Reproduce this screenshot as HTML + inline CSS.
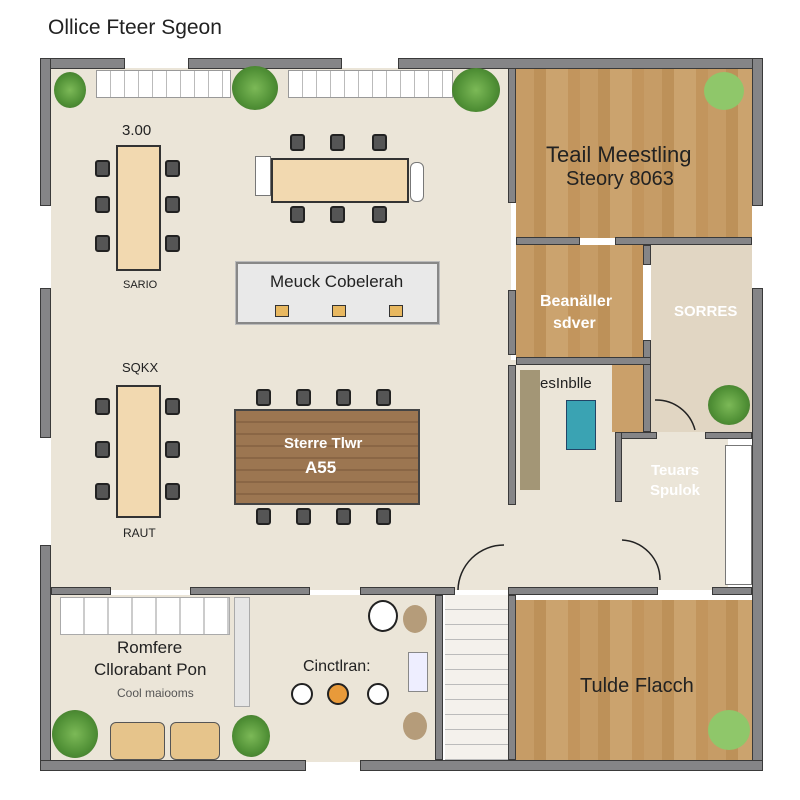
<!DOCTYPE html>
<html><head><meta charset="utf-8"><style>
body{margin:0;width:800px;height:800px;background:#fff;position:relative;overflow:hidden;font-family:"Liberation Sans",sans-serif}
div{position:absolute;box-sizing:border-box}
.w{background:#858587;border:1px solid #3a3a3a}
.fl{background:#ebe5d8}
.wood{background:repeating-linear-gradient(90deg,#c69c66 0 18px,#bd9159 18px 30px,#cba36e 30px 52px,#c2955d 52px 64px)}
.ch{background:#555;border:2px solid #222;border-radius:3px;width:15px;height:17px}
.tb{background:#f2d9b0;border:2px solid #333}
.t{white-space:nowrap;color:#222}
.pl{border-radius:50%;background:radial-gradient(circle,#7cb957 0,#4f8f35 60%,#3d6d2a 100%)}
.win{background:#fff;border:1px solid #999}
</style></head><body>
<div class="t" style="left:48px;top:16px;font-size:21px">Ollice Fteer Sgeon</div>
<div class="fl" style="left:51px;top:68px;width:460px;height:522px"></div>
<div class="fl" style="left:508px;top:360px;width:220px;height:230px"></div>
<div class="fl" style="left:51px;top:595px;width:386px;height:167px"></div>
<div class="wood" style="left:516px;top:68px;width:236px;height:170px"></div>
<div class="wood" style="left:516px;top:245px;width:127px;height:112px"></div>
<div style="left:651px;top:245px;width:101px;height:187px;background:#e1d6c3"></div>
<div style="left:612px;top:365px;width:36px;height:67px;background:#caa06a"></div>
<div class="wood" style="left:516px;top:600px;width:236px;height:160px"></div>
<div style="left:725px;top:445px;width:27px;height:140px;background:#fff;border:1px solid #777"></div>
<div style="left:445px;top:595px;width:63px;height:165px;background:repeating-linear-gradient(180deg,#f4f1ec 0 14px,#bbb 14px 15px)"></div>
<div style="left:520px;top:370px;width:20px;height:120px;background:#a39676"></div>
<div style="left:566px;top:400px;width:30px;height:50px;background:#3aa3b3;border:1px solid #246"></div>
<div class="w" style="left:40px;top:58px;width:85px;height:11px"></div>
<div class="w" style="left:188px;top:58px;width:154px;height:11px"></div>
<div class="w" style="left:398px;top:58px;width:365px;height:11px"></div>
<div class="w" style="left:40px;top:58px;width:11px;height:148px"></div>
<div class="w" style="left:40px;top:288px;width:11px;height:150px"></div>
<div class="w" style="left:40px;top:545px;width:11px;height:226px"></div>
<div class="w" style="left:752px;top:58px;width:11px;height:148px"></div>
<div class="w" style="left:752px;top:288px;width:11px;height:483px"></div>
<div class="w" style="left:40px;top:760px;width:266px;height:11px"></div>
<div class="w" style="left:360px;top:760px;width:403px;height:11px"></div>
<div class="w" style="left:508px;top:68px;width:8px;height:135px"></div>
<div class="w" style="left:508px;top:290px;width:8px;height:65px"></div>
<div class="w" style="left:508px;top:365px;width:8px;height:140px"></div>
<div class="w" style="left:516px;top:237px;width:64px;height:8px"></div>
<div class="w" style="left:615px;top:237px;width:137px;height:8px"></div>
<div class="w" style="left:643px;top:245px;width:8px;height:20px"></div>
<div class="w" style="left:643px;top:340px;width:8px;height:92px"></div>
<div class="w" style="left:516px;top:357px;width:135px;height:8px"></div>
<div class="w" style="left:615px;top:432px;width:42px;height:7px"></div>
<div class="w" style="left:705px;top:432px;width:47px;height:7px"></div>
<div class="w" style="left:615px;top:432px;width:7px;height:70px"></div>
<div class="w" style="left:51px;top:587px;width:60px;height:8px"></div>
<div class="w" style="left:190px;top:587px;width:120px;height:8px"></div>
<div class="w" style="left:360px;top:587px;width:95px;height:8px"></div>
<div class="w" style="left:508px;top:587px;width:150px;height:8px"></div>
<div class="w" style="left:712px;top:587px;width:40px;height:8px"></div>
<div class="w" style="left:435px;top:595px;width:8px;height:165px"></div>
<div class="w" style="left:508px;top:595px;width:8px;height:165px"></div>
<div class="win" style="left:96px;top:70px;width:135px;height:28px;background:repeating-linear-gradient(90deg,#fff 0 13px,#bbb 13px 14px)"></div>
<div class="win" style="left:288px;top:70px;width:165px;height:28px;background:repeating-linear-gradient(90deg,#fff 0 13px,#bbb 13px 14px)"></div>
<div class="pl" style="left:54px;top:72px;width:32px;height:36px"></div>
<div class="pl" style="left:232px;top:66px;width:46px;height:44px"></div>
<div class="pl" style="left:452px;top:68px;width:48px;height:44px"></div>
<div class="pl" style="left:704px;top:72px;width:40px;height:38px;background:#8fc76a"></div>
<div class="pl" style="left:708px;top:385px;width:42px;height:40px"></div>
<div class="pl" style="left:52px;top:710px;width:46px;height:48px"></div>
<div class="pl" style="left:232px;top:715px;width:38px;height:42px"></div>
<div class="pl" style="left:708px;top:710px;width:42px;height:40px;background:#8fc76a"></div>
<div class="t" style="left:122px;top:122px;font-size:15px">3.00</div>
<div class="tb" style="left:116px;top:145px;width:45px;height:126px"></div>
<div class="ch" style="left:95px;top:160px"></div><div class="ch" style="left:95px;top:196px"></div><div class="ch" style="left:95px;top:235px"></div>
<div class="ch" style="left:165px;top:160px"></div><div class="ch" style="left:165px;top:196px"></div><div class="ch" style="left:165px;top:235px"></div>
<div class="t" style="left:123px;top:279px;font-size:11px">SARIO</div>
<div class="tb" style="left:271px;top:158px;width:138px;height:45px"></div>
<div style="left:255px;top:156px;width:16px;height:40px;border:1px solid #777;background:#fff"></div>
<div style="left:410px;top:162px;width:14px;height:40px;border:1px solid #777;background:#fff;border-radius:6px"></div>
<div class="ch" style="left:290px;top:134px"></div><div class="ch" style="left:330px;top:134px"></div><div class="ch" style="left:372px;top:134px"></div>
<div class="ch" style="left:290px;top:206px"></div><div class="ch" style="left:330px;top:206px"></div><div class="ch" style="left:372px;top:206px"></div>
<div style="left:236px;top:262px;width:203px;height:62px;background:#e9e9e9;border:2px solid #888;outline:1px solid #bbb"></div>
<div class="t" style="left:270px;top:272px;font-size:17px">Meuck Cobelerah</div>
<div style="left:275px;top:305px;width:14px;height:12px;background:#e8b860;border:1px solid #333"></div>
<div style="left:332px;top:305px;width:14px;height:12px;background:#e8b860;border:1px solid #333"></div>
<div style="left:389px;top:305px;width:14px;height:12px;background:#e8b860;border:1px solid #333"></div>
<div class="t" style="left:122px;top:360px;font-size:13px">SQKX</div>
<div class="tb" style="left:116px;top:385px;width:45px;height:133px"></div>
<div class="ch" style="left:95px;top:398px"></div><div class="ch" style="left:95px;top:441px"></div><div class="ch" style="left:95px;top:483px"></div>
<div class="ch" style="left:165px;top:398px"></div><div class="ch" style="left:165px;top:441px"></div><div class="ch" style="left:165px;top:483px"></div>
<div class="t" style="left:123px;top:526px;font-size:12px">RAUT</div>
<div style="left:234px;top:409px;width:186px;height:96px;border:2px solid #444;background:repeating-linear-gradient(180deg,#9c7651 0 10px,#8a6645 10px 12px)"></div>
<div class="t" style="left:284px;top:435px;font-size:15px;color:#fff;font-weight:bold">Sterre Tlwr</div>
<div class="t" style="left:305px;top:458px;font-size:17px;color:#fff;font-weight:bold">A55</div>
<div class="ch" style="left:256px;top:389px"></div><div class="ch" style="left:296px;top:389px"></div><div class="ch" style="left:336px;top:389px"></div><div class="ch" style="left:376px;top:389px"></div>
<div class="ch" style="left:256px;top:508px"></div><div class="ch" style="left:296px;top:508px"></div><div class="ch" style="left:336px;top:508px"></div><div class="ch" style="left:376px;top:508px"></div>
<div class="t" style="left:546px;top:142px;font-size:22px">Teail Meestling</div>
<div class="t" style="left:566px;top:168px;font-size:20px">Steory 8063</div>
<div class="t" style="left:540px;top:293px;font-size:16px;color:#fff;font-weight:bold">Beanäller</div>
<div class="t" style="left:553px;top:315px;font-size:16px;color:#fff;font-weight:bold">sdver</div>
<div class="t" style="left:674px;top:303px;font-size:15px;color:#fff;font-weight:bold">SORRES</div>
<div class="t" style="left:540px;top:375px;font-size:15px">esInblle</div>
<div class="t" style="left:651px;top:462px;font-size:15px;color:#fff;font-weight:bold">Teuars</div>
<div class="t" style="left:650px;top:482px;font-size:15px;color:#fff;font-weight:bold">Spulok</div>
<div class="t" style="left:580px;top:675px;font-size:20px">Tulde Flacch</div>
<svg style="position:absolute;left:0;top:0" width="800" height="800"><g fill="none" stroke="#222" stroke-width="1.5">
<path d="M504 545 A46 46 0 0 0 458 590"/><path d="M622 540 A40 40 0 0 1 660 580"/><path d="M655 400 A40 40 0 0 1 695 430"/>
</g></svg>
<div style="left:60px;top:597px;width:170px;height:38px;border:1px solid #aaa;background:repeating-linear-gradient(90deg,#fff 0 22px,#ccc 22px 24px)"></div>
<div style="left:234px;top:597px;width:16px;height:110px;background:#e6e6e6;border:1px solid #aaa"></div>
<div class="t" style="left:117px;top:638px;font-size:17px">Romfere</div>
<div class="t" style="left:94px;top:660px;font-size:17px">Cllorabant Pon</div>
<div class="t" style="left:117px;top:686px;font-size:12px;color:#555">Cool maiooms</div>
<div style="left:110px;top:722px;width:55px;height:38px;background:#e6c48b;border:1px solid #555;border-radius:6px"></div>
<div style="left:170px;top:722px;width:50px;height:38px;background:#e6c48b;border:1px solid #555;border-radius:6px"></div>
<div class="t" style="left:303px;top:658px;font-size:16px">Cinctlran:</div>
<div style="left:291px;top:683px;width:22px;height:22px;border:2px solid #222;border-radius:50%;background:#fff"></div>
<div style="left:327px;top:683px;width:22px;height:22px;border:2px solid #222;border-radius:50%;background:#e89a3a"></div>
<div style="left:367px;top:683px;width:22px;height:22px;border:2px solid #222;border-radius:50%;background:#fff"></div>
<div style="left:368px;top:600px;width:30px;height:32px;border:2px solid #222;border-radius:50%;background:#fff"></div>
<div style="left:403px;top:605px;width:24px;height:28px;border-radius:50%;background:#b59c7a"></div>
<div style="left:408px;top:652px;width:20px;height:40px;border:1px solid #888;background:#eef"></div>
<div style="left:403px;top:712px;width:24px;height:28px;border-radius:50%;background:#b59c7a"></div>
</body></html>
